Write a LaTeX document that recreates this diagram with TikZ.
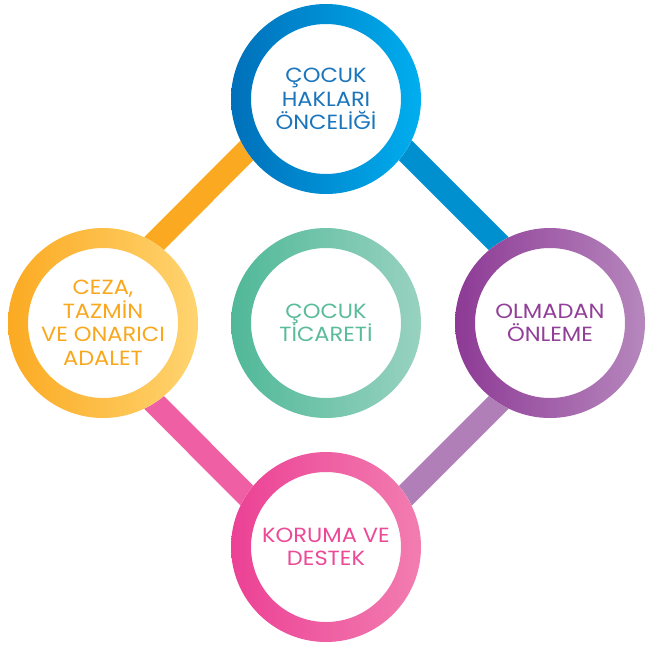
\documentclass[tikz,border=0pt]{standalone}
\usepackage{fontspec}
\setmainfont{Poppins}[FakeStretch=1.1]
\usetikzlibrary{calc}
\definecolor{tA}{HTML}{0070BA}\definecolor{tB}{HTML}{00AEEF}\definecolor{tT}{HTML}{1B75BC}
\definecolor{lA}{HTML}{FBAA22}\definecolor{lB}{HTML}{FFD470}\definecolor{lT}{HTML}{F9A81E}
\definecolor{rA}{HTML}{8D3A95}\definecolor{rB}{HTML}{B687BD}\definecolor{rT}{HTML}{913F98}
\definecolor{bA}{HTML}{EC4195}\definecolor{bB}{HTML}{F27DB0}\definecolor{bT}{HTML}{EC4A97}
\definecolor{cA}{HTML}{50B898}\definecolor{cB}{HTML}{98D2C0}\definecolor{cT}{HTML}{5BBC9C}
\definecolor{barTL}{HTML}{FBA920}\definecolor{barTR}{HTML}{0090D0}
\definecolor{barLB}{HTML}{EF5FA3}\definecolor{barRB}{HTML}{B07FB8}
\tikzset{
  hub/.style={circle, minimum size=150pt, inner sep=0pt, align=center,
    font=\fontsize{20.5}{23.5}\selectfont},
  bar/.style={line width=23pt},
}
\newcommand{\ringat}[3]{%
  \fill[white] (#1) circle (95pt);
  \shade[even odd rule, left color=#2, right color=#3] (#1) circle (95pt) circle (75pt);
}
\begin{document}
\begin{tikzpicture}[x=1pt,y=-1pt]
\useasboundingbox (0,0) rectangle (647,645);
\coordinate (T) at (326,99);
\coordinate (L) at (103,323);
\coordinate (R) at (550,323);
\coordinate (B) at (326,547);
\coordinate (C) at (326,323);
% connectors, shifted outward
\draw[bar, barTL] ($(T)+(-14,-14)$) -- ($(L)+(-14,-14)$);
\draw[bar, barTR] ($(T)+(14,-14)$) -- ($(R)+(14,-14)$);
\draw[bar, barLB] ($(L)+(-14,14)$) -- ($(B)+(-14,14)$);
\draw[bar, barRB] ($(R)+(14,14)$) -- ($(B)+(14,14)$);
% rings
\ringat{T}{tA}{tB}
\ringat{L}{lA}{lB}
\ringat{R}{rA}{rB}
\ringat{B}{bA}{bB}
\ringat{C}{cA}{cB}
% labels
\node[hub, text=tT] (top) at (T) {ÇOCUK\\HAKLARI\\ÖNCELİĞİ};
\node[hub, text=lT] (left) at (L) {CEZA,\\TAZMİN\\VE ONARICI\\ADALET};
\node[hub, text=rT] (right) at (R) {OLMADAN\\ÖNLEME};
\node[hub, text=bT] (bottom) at (B) {KORUMA VE\\DESTEK};
\node[hub, text=cT] (center) at (C) {ÇOCUK\\TİCARETİ};
\end{tikzpicture}
\end{document}
